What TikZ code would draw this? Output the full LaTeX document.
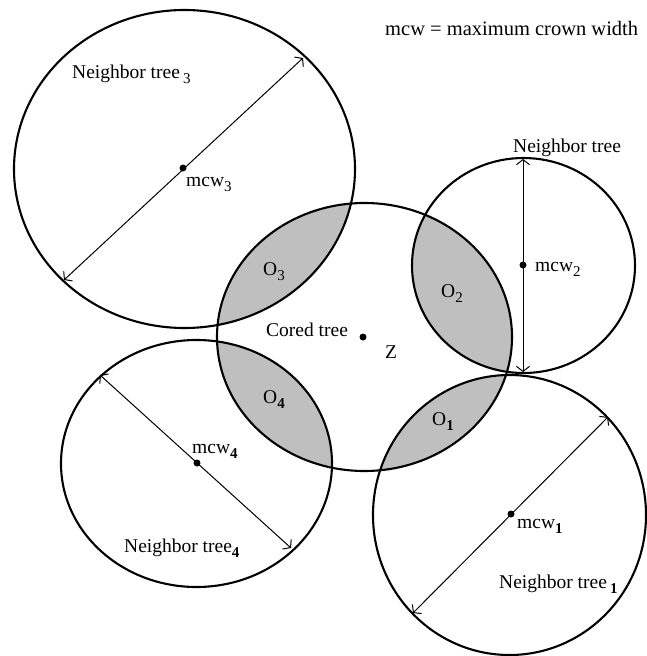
\documentclass[tikz,border=0pt]{standalone}
\usepackage{fontspec}
\setmainfont{Liberation Serif}
\usetikzlibrary{arrows.meta}
\newcommand{\lowix}[1]{\raisebox{-5pt}{\fontsize{15}{15}\selectfont #1}}
\begin{document}
\begin{tikzpicture}[x=1pt,y=-1pt,
  crown/.style={line width=2.1pt},
  overlap/.style={fill=black!25},
  diam/.style={line width=1pt, {Straight Barb[length=5pt,width=13pt]}-{Straight Barb[length=5pt,width=13pt]}},
  centre/.style={circle, fill=black, inner sep=0pt, minimum size=7pt},
  lbl/.style={anchor=base west, inner sep=0pt, font=\fontsize{19.5}{23}\selectfont}]
\useasboundingbox (0,0) rectangle (647,656);
% centres
\coordinate (cz) at (364.5,337);
\coordinate (c1) at (509.5,515);
\coordinate (c2) at (523.5,265.5);
\coordinate (c3) at (184.5,169);
\coordinate (c4) at (196.5,463.5);
% overlaps
\begin{scope}
  \clip (cz) ellipse [x radius=147.5, y radius=134];
  \fill[overlap] (c1) ellipse [x radius=136.5, y radius=140];
  \fill[overlap] (c2) ellipse [x radius=111.5, y radius=107.5];
  \fill[overlap] (c3) ellipse [x radius=170.5, y radius=159];
  \fill[overlap] (c4) ellipse [x radius=135.5, y radius=123.5];
\end{scope}
% crowns
\draw[crown] (cz) ellipse [x radius=147.5, y radius=134];
\draw[crown] (c1) ellipse [x radius=136.5, y radius=140];
\draw[crown] (c2) ellipse [x radius=111.5, y radius=107.5];
\draw[crown] (c3) ellipse [x radius=170.5, y radius=159];
\draw[crown] (c4) ellipse [x radius=135.5, y radius=123.5];
% diameters
\coordinate (a1) at (608,417);
\coordinate (b1) at (413,613);
\coordinate (a2) at (523,159);
\coordinate (b2) at (523,372);
\coordinate (a3) at (303,58);
\coordinate (b3) at (64,280);
\coordinate (a4) at (100,375);
\coordinate (b4) at (291,548);
\draw[diam] (a1) -- (b1);
\draw[diam] (a2) -- (b2);
\draw[diam] (a3) -- (b3);
\draw[diam] (a4) -- (b4);
% centre dots
\node[centre] (dz) at (363,337) {};
\node[centre] (d1) at (511,514) {};
\node[centre] (d2) at (523,265) {};
\node[centre] (d3) at (183,168) {};
\node[centre] (d4) at (197,463) {};
% labels
\node[lbl, font=\fontsize{20.5}{24}\selectfont] (title) at (385,35) {mcw = maximum crown width};
\node[lbl] (nt3) at (72,78) {Neighbor tree\,\lowix{3}};
\node[lbl] (m3) at (186,186) {mcw\lowix{3}};
\node[lbl] (nt2) at (513,152) {Neighbor tree};
\node[lbl] (m2) at (535,271) {mcw\lowix{2}};
\node[lbl] (o3) at (263,275) {O\lowix{3}};
\node[lbl] (o2) at (441,297) {O\lowix{2}};
\node[lbl] (ct) at (266,336) {Cored tree};
\node[lbl] (zl) at (385,358) {Z};
\node[lbl] (o4) at (263,403) {O\lowix{\textbf{4}}};
\node[lbl] (o1) at (432,425) {O\lowix{\textbf{1}}};
\node[lbl] (m4) at (192,453) {mcw\lowix{\textbf{4}}};
\node[lbl] (nt4) at (124,552) {Neighbor tree\lowix{\textbf{4}}};
\node[lbl] (m1) at (517,528) {mcw\lowix{\textbf{1}}};
\node[lbl] (nt1) at (499,588) {Neighbor tree\,\lowix{\textbf{1}}};
\end{tikzpicture}
\end{document}
